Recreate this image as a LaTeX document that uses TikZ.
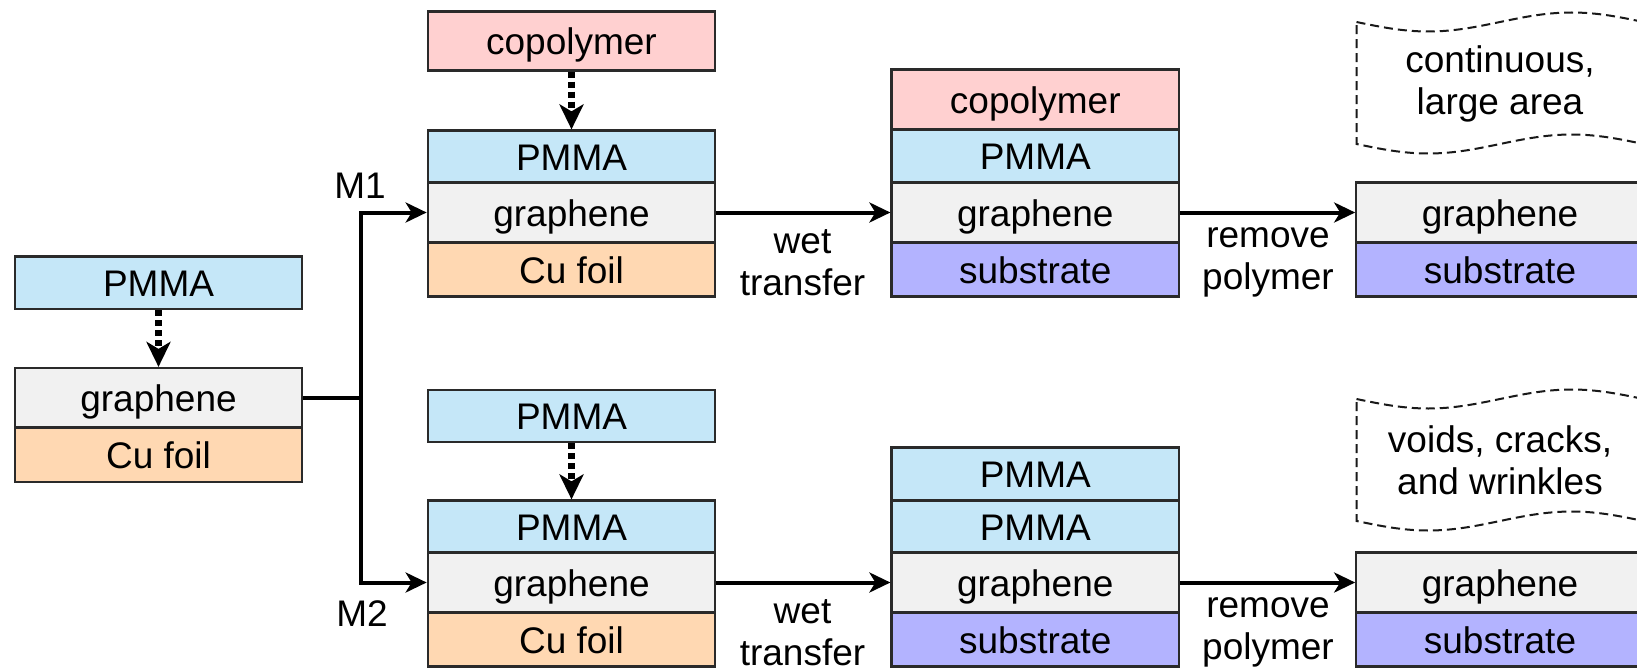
\documentclass[tikz,border=0pt]{standalone}
\usepackage{fontspec}
\setmainfont{Liberation Sans}
\usetikzlibrary{arrows.meta}
\definecolor{copfill}{HTML}{FFD0D0}
\definecolor{pmmafill}{HTML}{C5E7F8}
\definecolor{grafill}{HTML}{F1F1F1}
\definecolor{cufill}{HTML}{FFD8B2}
\definecolor{subfill}{HTML}{B3B3FF}
\definecolor{edgecol}{HTML}{2A2A2A}
\begin{document}
\begin{tikzpicture}[x=1pt,y=-1pt,
  every node/.style={font=\fontsize{37pt}{42pt}\selectfont},
  layer/.style={draw=edgecol, line width=2.2pt, minimum width=287.5pt,
    inner sep=0pt, text height=33pt, text depth=6pt},
  coplayer/.style={layer, fill=copfill},
  pmmalayer/.style={layer, fill=pmmafill},
  gralayer/.style={layer, fill=grafill},
  culayer/.style={layer, fill=cufill},
  sublayer/.style={layer, fill=subfill},
  flow/.style={line width=4pt, black, line join=miter},
  flowarrow/.style={flow, -{Stealth[length=21pt, width=20pt, inset=6pt]}},
  coatarrow/.style={line width=7pt, black, dash pattern=on 6pt off 4pt,
    -{Stealth[length=25pt, width=24pt, inset=7pt]}},
  tapebox/.style={draw=black!90, line width=2pt, dash pattern=on 9pt off 5pt},
  caption/.style={align=center, inner sep=0pt}
]
\useasboundingbox (0,0) rectangle (1637,669);
\fill[white] (0,0) rectangle (1637,669);

% starting stack
\node[pmmalayer, minimum height=52.5pt] (lpm) at (158.5,282.75) {PMMA};
\node[gralayer, minimum height=59.5pt] (lgr) at (158.5,397.75) {graphene};
\node[culayer, minimum height=54.5pt] (lcu) at (158.5,454.75) {Cu foil};

% route M1
\node[coplayer, minimum height=59pt] (acop) at (571.5,41) {copolymer};
\node[pmmalayer, minimum height=52pt] (a1pm) at (571.5,156.5) {PMMA};
\node[gralayer, minimum height=60pt] (a1gr) at (571.5,212.5) {graphene};
\node[culayer, minimum height=54pt] (a1cu) at (571.5,269.5) {Cu foil};

\node[coplayer, minimum height=60pt] (b1cop) at (1035.25,99.5) {copolymer};
\node[pmmalayer, minimum height=53pt] (b1pm) at (1035.25,156) {PMMA};
\node[gralayer, minimum height=60pt] (b1gr) at (1035.25,212.5) {graphene};
\node[sublayer, minimum height=54pt] (b1su) at (1035.25,269.5) {substrate};

\node[gralayer, minimum height=60pt] (c1gr) at (1500,212.5) {graphene};
\node[sublayer, minimum height=54pt] (c1su) at (1500,269.5) {substrate};

% route M2
\node[pmmalayer, minimum height=52pt] (apm) at (571.5,416) {PMMA};
\node[pmmalayer, minimum height=52pt] (a2pm) at (571.5,526.5) {PMMA};
\node[gralayer, minimum height=60pt] (a2gr) at (571.5,582.5) {graphene};
\node[culayer, minimum height=54pt] (a2cu) at (571.5,639.5) {Cu foil};

\node[pmmalayer, minimum height=53pt] (b2pm1) at (1035.25,474) {PMMA};
\node[pmmalayer, minimum height=52pt] (b2pm2) at (1035.25,526.5) {PMMA};
\node[gralayer, minimum height=60pt] (b2gr) at (1035.25,582.5) {graphene};
\node[sublayer, minimum height=54pt] (b2su) at (1035.25,639.5) {substrate};

\node[gralayer, minimum height=60pt] (c2gr) at (1500,582.5) {graphene};
\node[sublayer, minimum height=54pt] (c2su) at (1500,639.5) {substrate};

% result notes (tape outlines)
\draw[tapebox] (1356.5,22) sin (1428.25,31.5) cos (1500,22) sin (1571.75,12.5) cos (1643.5,22)
  -- (1643.5,144) sin (1571.75,134.5) cos (1500,144) sin (1428.25,153.5) cos (1356.5,144) -- cycle;
\node[caption] (note1) at (1500,84) {continuous,\\large area};
\draw[tapebox] (1356.5,399) sin (1428.25,408.5) cos (1500,399) sin (1571.75,389.5) cos (1643.5,399)
  -- (1643.5,521) sin (1571.75,511.5) cos (1500,521) sin (1428.25,530.5) cos (1356.5,521) -- cycle;
\node[caption] (note2) at (1500,460) {voids, cracks,\\and wrinkles};

% coating steps
\draw[coatarrow] (lpm.south) -- (lgr.north);
\draw[coatarrow] (acop.south) -- (a1pm.north);
\draw[coatarrow] (apm.south) -- (a2pm.north);

% branching
\coordinate (split) at (361,397.75);
\draw[flow] (lgr.east) -- (split);
\draw[flowarrow] (split) |- (a1gr.west);
\draw[flowarrow] (split) |- (a2gr.west);
\node (m1) at (360,186) {M1};
\node (m2) at (362,614) {M2};

% transfer and cleaning
\draw[flowarrow] (a1gr.east) -- (b1gr.west);
\draw[flowarrow] (b1gr.east) -- (c1gr.west);
\draw[flowarrow] (a2gr.east) -- (b2gr.west);
\draw[flowarrow] (b2gr.east) -- (c2gr.west);
\node[caption] (wt1) at (802.5,263) {wet\\transfer};
\node[caption] (rp1) at (1268,262) {remove\\polymer};
\node[caption] (wt2) at (802.5,633) {wet\\transfer};
\node[caption] (rp2) at (1268,632) {remove\\polymer};
\end{tikzpicture}
\end{document}
